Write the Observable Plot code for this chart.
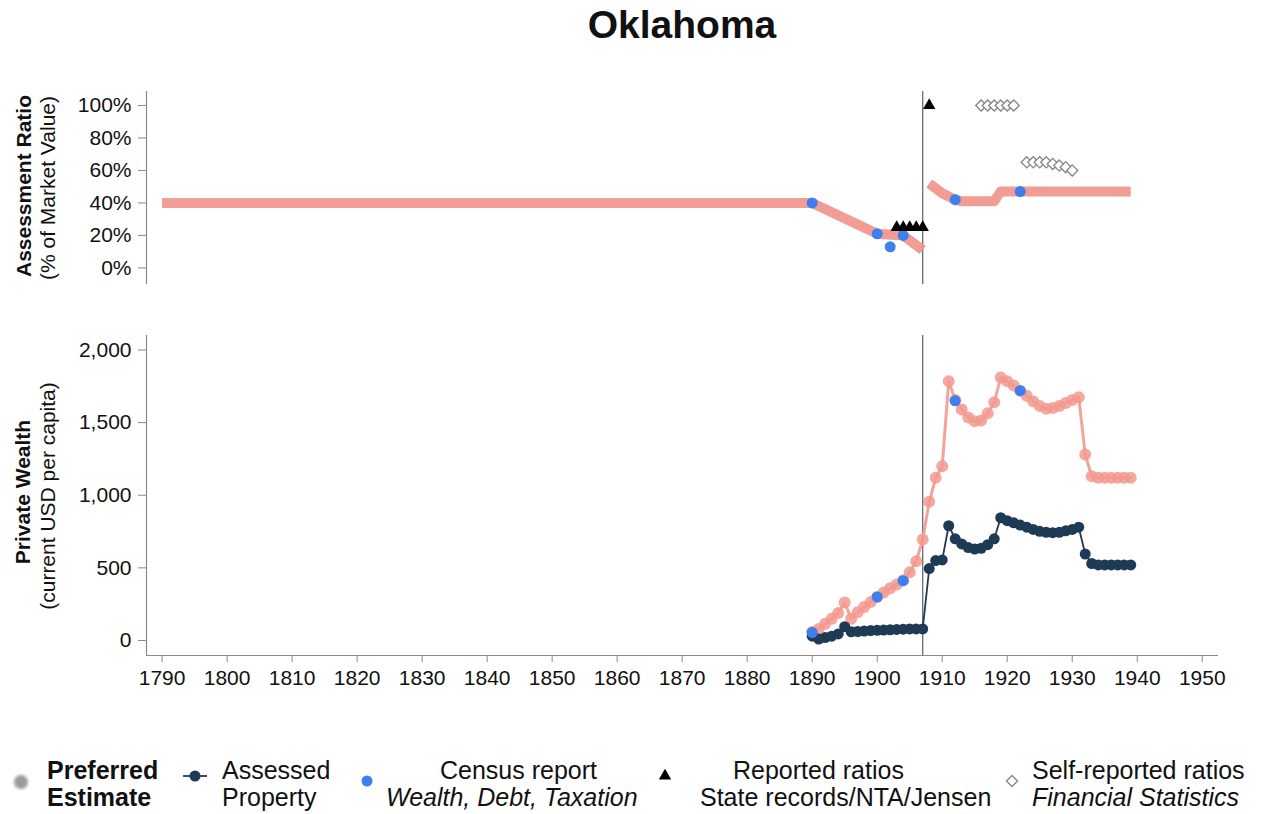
<!DOCTYPE html>
<html>
<head>
<meta charset="utf-8">
<script src="https://cdn.jsdelivr.net/npm/d3@7"></script>
<script src="https://cdn.jsdelivr.net/npm/@observablehq/plot@0.6"></script>
<style>
  html, body { margin: 0; padding: 0; background: #fff; }
  body { font-family: "Liberation Sans", Arial, Helvetica, sans-serif; color: #111; }
  #root { position: relative; width: 1267px; height: 814px; overflow: hidden; background: #fff; }
  #title { position: absolute; left: 146px; width: 1072px; top: 5px; text-align: center;
           font-weight: bold; font-size: 39px; line-height: 39px; }
  #topPanel { position: absolute; left: 0; top: 50px; }
  #bottomPanel { position: absolute; left: 0; top: 300px; }
  .ytitle { position: absolute; white-space: nowrap; font-size: 21px; line-height: 21px;
            transform: translate(-50%, -50%) rotate(-90deg); }
  .leg { position: absolute; font-size: 25px; line-height: 27px; white-space: nowrap; }
  .sym { position: absolute; overflow: visible; }
</style>
</head>
<body>
<div id="root">
  <div id="title">Oklahoma</div>
  <div class="ytitle" style="left:23px; top:186px; font-weight:bold;">Assessment Ratio</div>
  <div class="ytitle" style="left:47px; top:188px;">(% of Market Value)</div>
  <div class="ytitle" style="left:22px; top:492px; font-weight:bold;">Private Wealth</div>
  <div class="ytitle" style="left:47px; top:496px;">(current USD per capita)</div>
  <div id="topPanel"></div>
  <div id="bottomPanel"></div>
  <div id="legend"></div>
</div>
<script>
// ---------------- data ----------------
const xTicks = [1790, 1800, 1810, 1820, 1830, 1840, 1850, 1860, 1870, 1880, 1890, 1900, 1910, 1920, 1930, 1940, 1950];
const ratioTicks = [0, 20, 40, 60, 80, 100];
const wealthTicks = [0, 500, 1000, 1500, 2000];
const statehoodYear = [1907];

// Preferred estimate of the assessment ratio (%), two separate segments
const prefRatioYearsA = [1790, 1890, 1900, 1904, 1907];
const prefRatioA      = [40, 40, 21, 20, 11];
const prefRatioYearsB = [1908, 1909, 1910, 1911, 1912, 1913, 1918, 1919, 1939];
const prefRatioB      = [52, 49, 46, 44, 42, 41, 41, 47, 47];

// Census report ratios (%)
const censusRatioYears = [1890, 1900, 1902, 1904, 1912, 1922];
const censusRatio      = [40, 21, 13, 20, 42, 47];

// Reported ratios: state records / NTA / Jensen (%)
const reportedYears = [1903, 1904, 1905, 1906, 1907, 1908];
const reportedRatio = [25, 25, 25, 25, 25, 100];

// Self-reported ratios: Financial Statistics (%)
const selfYears = [1916, 1917, 1918, 1919, 1920, 1921, 1923, 1924, 1925, 1926, 1927, 1928, 1929, 1930];
const selfRatio = [100, 100, 100, 100, 100, 100, 65, 65, 65, 65, 64, 63, 62, 60];

// Private wealth (current USD per capita)
const wealthYears = [1890, 1891, 1892, 1893, 1894, 1895, 1896, 1897, 1898, 1899,
                     1900, 1901, 1902, 1903, 1904, 1905, 1906, 1907, 1908, 1909,
                     1910, 1911, 1912, 1913, 1914, 1915, 1916, 1917, 1918, 1919,
                     1920, 1921, 1922, 1923, 1924, 1925, 1926, 1927, 1928, 1929,
                     1930, 1931, 1932, 1933, 1934, 1935, 1936, 1937, 1938, 1939];
const prefWealth = [60, 80, 115, 150, 190, 262, 150, 195, 230, 265,
                    300, 330, 360, 385, 415, 470, 545, 695, 955, 1120,
                    1200, 1785, 1655, 1590, 1535, 1510, 1515, 1565, 1640, 1810,
                    1785, 1755, 1720, 1685, 1645, 1615, 1595, 1600, 1615, 1635,
                    1655, 1675, 1280, 1130, 1120, 1120, 1120, 1120, 1120, 1120];
const assessedWealth = [30, 10, 20, 30, 45, 95, 60, 62, 65, 68,
                        70, 72, 74, 76, 78, 80, 80, 80, 495, 550,
                        555, 790, 700, 665, 640, 630, 635, 660, 700, 845,
                        825, 810, 795, 780, 765, 752, 745, 742, 745, 755,
                        765, 780, 595, 530, 520, 520, 520, 520, 520, 520];

// Census report wealth
const censusWealthYears = [1890, 1900, 1904, 1912, 1922];
const censusWealth      = [55, 300, 412, 1650, 1720];

// ---------------- build ----------------
const rows = (xs, ys) => xs.map((x, i) => ({year: x, value: ys[i]}));
const font = '"Liberation Sans", Arial, Helvetica, sans-serif';
const xDomain = [1787.6, 1952.5];
const yDomainTop = [-10.2, 108.6];
const yDomainBottom = [-103.3, 2099.8];

const salmon = "#ef8e85";
const pink = "#f2998f";
const navy = "#1f3a55";
const blue = "#3d7ef0";
const axisGray = "#8a8a8a";

const topPlot = Plot.plot({
  width: 1267, height: 250,
  marginTop: 41, marginBottom: 16, marginLeft: 146, marginRight: 49,
  style: {fontFamily: font, fontSize: "21px", color: "#111", background: "transparent", overflow: "visible"},
  x: {domain: xDomain, axis: null, label: null},
  y: {domain: yDomainTop, axis: null, label: null},
  marks: [
    Plot.ruleX([xDomain[0]], {stroke: axisGray, strokeWidth: 1.2}),
    Plot.axisY(ratioTicks, {tickSize: 8, tickPadding: 7, tickFormat: d => d + "%", stroke: axisGray, fontSize: 21, label: null}),
    Plot.ruleX(statehoodYear, {stroke: "#6a6a6a", strokeWidth: 1.3}),
    Plot.line(rows(prefRatioYearsA, prefRatioA), {x: "year", y: "value", stroke: salmon, strokeWidth: 10, strokeOpacity: 0.88, strokeLinecap: "butt"}),
    Plot.line(rows(prefRatioYearsB, prefRatioB), {x: "year", y: "value", stroke: salmon, strokeWidth: 10, strokeOpacity: 0.88, strokeLinecap: "butt"}),
    Plot.dot(rows(censusRatioYears, censusRatio), {x: "year", y: "value", r: 5.5, fill: blue, stroke: "none"}),
    Plot.dot(rows(reportedYears, reportedRatio), {x: "year", y: "value", symbol: "triangle", r: 4.6, fill: "#000", stroke: "none"}),
    Plot.dot(rows(selfYears, selfRatio), {x: "year", y: "value", symbol: "diamond2", r: 5, fill: "#fff", stroke: "#858585", strokeWidth: 1.3})
  ]
});
document.getElementById("topPanel").appendChild(topPlot);

const bottomPlot = Plot.plot({
  width: 1267, height: 420,
  marginTop: 35, marginBottom: 65, marginLeft: 146, marginRight: 49,
  style: {fontFamily: font, fontSize: "21px", color: "#111", background: "transparent", overflow: "visible"},
  x: {domain: xDomain, axis: null, label: null},
  y: {domain: yDomainBottom, axis: null, label: null},
  marks: [
    Plot.ruleX([xDomain[0]], {stroke: axisGray, strokeWidth: 1.2}),
    Plot.ruleY([yDomainBottom[0]], {stroke: axisGray, strokeWidth: 1.2}),
    Plot.axisY(wealthTicks, {tickSize: 8, tickPadding: 7, tickFormat: d3.format(","), stroke: axisGray, fontSize: 21, label: null}),
    Plot.axisX(xTicks, {tickSize: 7, tickPadding: 8, tickFormat: d => String(d), stroke: axisGray, fontSize: 21, label: null}),
    Plot.ruleX(statehoodYear, {stroke: "#6a6a6a", strokeWidth: 1.3}),
    Plot.line(rows(wealthYears, prefWealth), {x: "year", y: "value", stroke: pink, strokeWidth: 3, strokeOpacity: 0.9}),
    Plot.dot(rows(wealthYears, prefWealth), {x: "year", y: "value", r: 6, fill: pink, fillOpacity: 0.85, stroke: "none"}),
    Plot.line(rows(wealthYears, assessedWealth), {x: "year", y: "value", stroke: navy, strokeWidth: 1.8}),
    Plot.dot(rows(wealthYears, assessedWealth), {x: "year", y: "value", r: 5.5, fill: navy, stroke: "none"}),
    Plot.dot(rows(censusWealthYears, censusWealth), {x: "year", y: "value", r: 5.5, fill: blue, stroke: "none"})
  ]
});
document.getElementById("bottomPanel").appendChild(bottomPlot);

// ---------------- legend ----------------
const legend = document.getElementById("legend");
function addText(txt, left, top, extra) {
  const d = document.createElement("div");
  d.className = "leg";
  d.textContent = txt;
  d.style.left = left + "px";
  d.style.top = top + "px";
  Object.assign(d.style, extra || {});
  legend.appendChild(d);
}
function addSym(svgInner, cx, cy) {
  const ns = "http://www.w3.org/2000/svg";
  const s = document.createElementNS(ns, "svg");
  s.setAttribute("class", "sym");
  s.setAttribute("width", 40); s.setAttribute("height", 40);
  s.setAttribute("viewBox", "-20 -20 40 40");
  s.style.left = (cx - 20) + "px"; s.style.top = (cy - 20) + "px";
  s.innerHTML = svgInner;
  legend.appendChild(s);
}
const line1 = 756.5, line2 = 783.5;
addSym('<defs><filter id="bl"><feGaussianBlur stdDeviation="1.6"/></filter></defs><circle r="7" fill="#9a9a9a" filter="url(#bl)"/>', 21, 782);
addText("Preferred", 47, line1, {fontWeight: "bold"});
addText("Estimate", 47, line2, {fontWeight: "bold"});
addSym('<line x1="-12" x2="12" y1="0" y2="0" stroke="' + navy + '" stroke-width="1.8"/><circle r="5.5" fill="' + navy + '"/>', 195, 776);
addText("Assessed", 222, line1);
addText("Property", 222, line2);
addSym('<circle r="5.5" fill="' + blue + '"/>', 367, 781);
addText("Census report", 440, line1);
addText("Wealth, Debt, Taxation", 386, line2, {fontStyle: "italic"});
addSym('<path d="' + d3.symbol(d3.symbolTriangle, 4.6 * 4.6 * Math.PI)() + '" fill="#000"/>', 665, 776);
addText("Reported ratios", 733, line1);
addText("State records/NTA/Jensen", 700, line2);
addSym('<path d="' + d3.symbol(d3.symbolDiamond2, 5 * 5 * Math.PI)() + '" fill="#fff" stroke="#858585" stroke-width="1.3"/>', 1012, 781);
addText("Self-reported ratios", 1032, line1);
addText("Financial Statistics", 1032, line2, {fontStyle: "italic"});
</script>
</body>
</html>
